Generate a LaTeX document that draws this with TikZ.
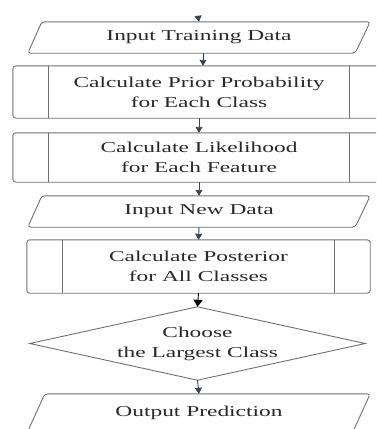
\documentclass[tikz,border=0pt]{standalone}
\usepackage{fontspec}
\setmainfont{Liberation Serif}[FakeStretch=1.55]
\usetikzlibrary{arrows.meta,calc}
\definecolor{txt}{HTML}{282828}
\definecolor{edge}{HTML}{707070}
\definecolor{arr}{HTML}{3A4450}
\begin{document}
\begin{tikzpicture}[x=1pt,y=-1pt,
  lbl/.style={inner sep=0pt,align=center,text=txt,
    font=\fontsize{15.1}{20}\selectfont},
  outline/.style={draw=edge,line width=0.9pt,rounded corners=3pt},
  flow/.style={draw=arr,line width=0.9pt,
    -{Triangle[width=7pt,length=6pt]}}]
\useasboundingbox (0,0) rectangle (376,429);
\clip (0,0) rectangle (376,429);

% text holders, sized like the shapes around them
\node[lbl,minimum width=342pt,minimum height=31pt] (n1) at (199,37.5) {Input Training Data};
\node[lbl,minimum width=372pt,minimum height=52pt] (n2) at (199,92) {Calculate Prior Probability\\for Each Class};
\node[lbl,minimum width=372pt,minimum height=49pt] (n3) at (199,157.5) {Calculate Likelihood\\for Each Feature};
\node[lbl,minimum width=342pt,minimum height=31pt] (n4) at (199,211.5) {Input New Data};
\node[lbl,minimum width=343pt,minimum height=53pt] (n5) at (198.5,266.5) {Calculate Posterior\\for All Classes};
\node[lbl,minimum width=335pt,minimum height=73pt] (n6) at (197.5,343.5) {Choose\\the Largest Class};
\node[lbl,minimum width=342pt,minimum height=37pt] (n7) at (199,412.5) {Output Prediction};

% data (parallelogram) shapes
\draw[outline] ($(n1.north west)+(14,0)$) -- (n1.north east) -- ($(n1.south east)-(15,0)$) -- (n1.south west) -- cycle;
\draw[outline] ($(n4.north west)+(14,0)$) -- (n4.north east) -- ($(n4.south east)-(15,0)$) -- (n4.south west) -- cycle;
\draw[outline] ($(n7.north west)+(17,0)$) -- (n7.north east) -- ($(n7.south east)-(17,0)$) -- (n7.south west) -- cycle;

% predefined-process boxes with side bars
\foreach \n in {n2,n3,n5}{
  \draw[outline] (\n.north west) rectangle (\n.south east);
  \draw[edge,line width=0.9pt] ($(\n.north west)+(36,0)$) -- ($(\n.south west)+(36,0)$);
  \draw[edge,line width=0.9pt] ($(\n.north east)-(36,0)$) -- ($(\n.south east)-(36,0)$);
}

% decision
\draw[edge,line width=0.9pt] (n6.north) -- (n6.east) -- (n6.south) -- (n6.west) -- cycle;

% connectors
\coordinate (start) at (198,15.5);
\draw[flow] (start) -- (n1.north);
\draw[flow] ([xshift=4pt]n1.south) -- ([xshift=4pt]n2.north);
\draw[flow] (n2.south) -- (n3.north);
\draw[flow] (n3.south) -- (n4.north);
\draw[flow] (n4.south) -- (n5.north);
\draw[flow,draw=black,-{Triangle[width=9pt,length=7pt]}] (n5.south) -- (n6.north);
\draw[flow] (n6.south) -- (n7.north);
\end{tikzpicture}
\end{document}
